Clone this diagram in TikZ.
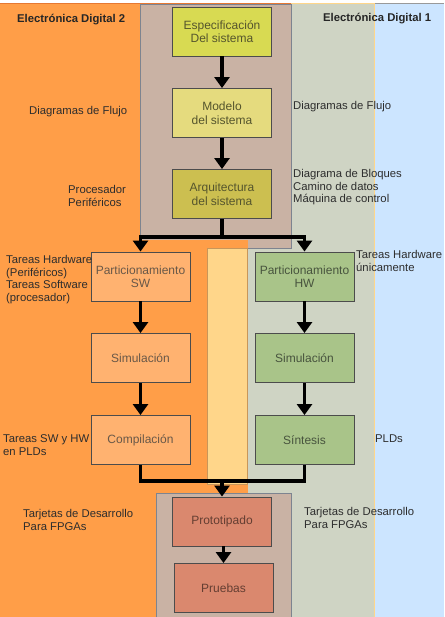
\documentclass[tikz,border=0pt]{standalone}
\usepackage{fontspec}
\setmainfont{Liberation Sans}
\usetikzlibrary{arrows.meta}
\definecolor{cOrange}{RGB}{255,158,72}
\definecolor{cOrangeD}{RGB}{230,120,50}
\definecolor{cGG}{RGB}{207,212,196}
\definecolor{cBlue}{RGB}{204,229,255}
\definecolor{cTaupe}{RGB}{201,178,164}
\definecolor{cBorder}{RGB}{125,132,144}
\definecolor{cStrip}{RGB}{255,214,138}
\definecolor{cStripB}{RGB}{200,150,90}
\definecolor{cEsp}{RGB}{216,218,82}
\definecolor{cMod}{RGB}{229,219,126}
\definecolor{cArq}{RGB}{204,191,80}
\definecolor{cSW}{RGB}{255,178,112}
\definecolor{cHW}{RGB}{169,196,137}
\definecolor{cPro}{RGB}{218,136,110}
\definecolor{cLbl}{RGB}{45,45,45}
\definecolor{tEsp}{RGB}{85,85,45}
\definecolor{tSW}{RGB}{105,88,72}
\definecolor{tHW}{RGB}{72,84,62}
\definecolor{tPro}{RGB}{100,62,50}
\begin{document}
\begin{tikzpicture}[x=1pt,y=-1pt,
  box/.style={draw=black!70, line width=0.9pt, minimum width=99pt, minimum height=49pt,
    inner sep=0pt, align=center, font=\fontsize{12}{13.5}\selectfont},
  lbl/.style={inner sep=0pt, align=left, anchor=north west, text=cLbl,
    font=\fontsize{11.3}{12.5}\selectfont},
  hdr/.style={inner sep=0pt, anchor=north west, text=black!85,
    font=\fontsize{11.3}{12.5}\selectfont\bfseries},
  flow/.style={line width=3.4pt},
  arr/.style={line width=3.4pt, -{Triangle[width=15pt,length=11pt]}}]
\useasboundingbox (0,0) rectangle (444,617);
\fill[white] (0,0) rectangle (444,617);
% background regions
\fill[cOrange] (0,3.5) rectangle (248,617);
\fill[cGG] (248,3.5) rectangle (374,617);
\fill[cBlue] (374,3.5) rectangle (444,617);
\draw[cOrangeD, line width=1pt] (0,3.5) -- (291,3.5);
\draw[cStrip, line width=1pt] (291,3.5) -- (374,3.5);
\draw[black!40, line width=1pt] (374,3.5) -- (444,3.5);
\draw[cStrip, line width=0.6pt] (374,3.5) -- (374,617);
\filldraw[fill=cTaupe, draw=cBorder, line width=0.8pt] (140,4) rectangle (291,248);
\fill[cOrange] (139.5,240) rectangle (248,493);
\filldraw[fill=cStrip, draw=cStripB, line width=0.6pt] (207,248) rectangle (247,484);
\filldraw[fill=cTaupe, draw=cBorder, line width=0.8pt] (156,493) rectangle (291,620);

% boxes
\node[box, fill=cEsp, text=tEsp] (esp) at (222,31.5) {Especificación\\Del sistema};
\node[box, fill=cMod, text=tEsp] (mod) at (222,113) {Modelo\\del sistema};
\node[box, fill=cArq, text=tEsp] (arq) at (222,194) {Arquitectura\\del sistema};
\node[box, fill=cSW, text=tSW] (swp) at (140.5,276.5) {Particionamiento\\SW};
\node[box, fill=cSW, text=tSW] (sws) at (140.5,358) {Simulación};
\node[box, fill=cSW, text=tSW] (swc) at (140.5,440) {Compilación};
\node[box, fill=cHW, text=tHW] (hwp) at (304.5,276.5) {Particionamiento\\HW};
\node[box, fill=cHW, text=tHW] (hws) at (304.5,358) {Simulación};
\node[box, fill=cHW, text=tHW] (hwx) at (304.5,440) {Síntesis};
\node[box, fill=cPro, text=tPro] (pro) at (222,521.5) {Prototipado};
\node[box, fill=cPro, text=tPro] (pru) at (223.5,588) {Pruebas};

% connectors
\coordinate (split) at (222,237);
\coordinate (join) at (222,481);
\draw[arr] (esp) -- (mod);
\draw[arr] (mod) -- (arq);
\draw[flow] (arq.south) -- (split);
\draw[arr] (split) -| (swp.north);
\draw[arr] (split) -| (hwp.north);
\draw[arr] (swp) -- (sws);
\draw[arr] (sws) -- (swc);
\draw[arr] (hwp) -- (hws);
\draw[arr] (hws) -- (hwx);
\draw[flow] (swc.south) |- (join);
\draw[flow] (hwx.south) |- (join);
\draw[arr] (join) -- (pro.north);
\draw[arr] (pro.south -| pru.north) -- (pru.north);

% labels
\node[hdr] (h2) at (17,14.5) {Electrónica Digital 2};
\node[hdr] (h1) at (323,13.5) {Electrónica Digital 1};
\node[lbl] (l1) at (29,106.5) {Diagramas de Flujo};
\node[lbl] (l2) at (68,185.5) {Procesador\\Periféricos};
\node[lbl] (r1) at (293,101.5) {Diagramas de Flujo};
\node[lbl] (r2) at (293,169.5) {Diagrama de Bloques\\Camino de datos\\Máquina de control};
\node[lbl] (l3) at (6,255.5) {Tareas Hardware\\(Periféricos)\\Tareas Software\\(procesador)};
\node[lbl] (r3) at (356,250.5) {Tareas Hardware\\únicamente};
\node[lbl] (l4) at (3,434.5) {Tareas SW y HW\\en PLDs};
\node[lbl] (r4) at (375,434.5) {PLDs};
\node[lbl] (l5) at (23,509.5) {Tarjetas de Desarrollo\\Para FPGAs};
\node[lbl] (r5) at (304,507.5) {Tarjetas de Desarrollo\\Para FPGAs};
\end{tikzpicture}
\end{document}
